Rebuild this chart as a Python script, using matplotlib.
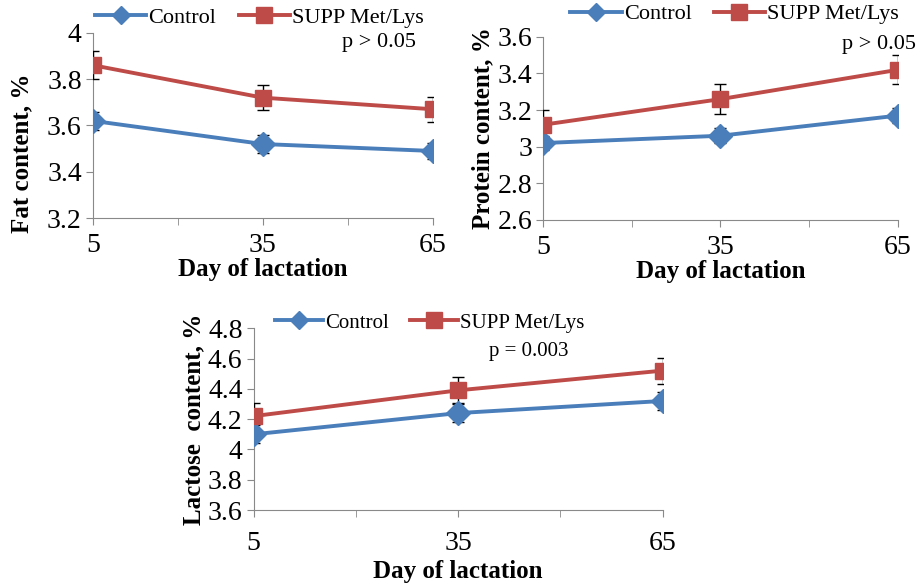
import numpy as np
import matplotlib.pyplot as plt
from matplotlib.lines import Line2D

plt.rcParams["font.family"] = ["Liberation Serif", "DejaVu Serif"]

days = [5, 35, 65]

fat_ctrl = [3.62, 3.52, 3.49]
fat_ctrl_err = [0.04, 0.04, 0.035]
fat_supp = [3.86, 3.72, 3.67]
fat_supp_err = [0.06, 0.055, 0.055]

prot_ctrl = [3.02, 3.06, 3.17]
prot_ctrl_err = [0.04, 0.04, 0.04]
prot_supp = [3.12, 3.26, 3.42]
prot_supp_err = [0.08, 0.08, 0.08]

lac_ctrl = [4.10, 4.24, 4.32]
lac_ctrl_err = [0.06, 0.06, 0.06]
lac_supp = [4.22, 4.39, 4.52]
lac_supp_err = [0.085, 0.085, 0.085]

blue = "#4a7ebb"
red = "#be4b48"
grey = "#898989"


def panel(ax, ctrl, cerr, supp, serr, ylim, yticks, yticklabels, ylabel, ptext, ptext_xy,
          leg_anchor, legsize=16):
    ax.errorbar(days, ctrl, yerr=cerr, color=blue, lw=2.8, marker="D", ms=12,
                ecolor="black", elinewidth=1, capsize=4, capthick=1, zorder=3)
    ax.errorbar(days, supp, yerr=serr, color=red, lw=2.8, marker="s", ms=12,
                ecolor="black", elinewidth=1, capsize=4, capthick=1, zorder=3)
    ax.set_xlim(5, 65)
    ax.set_ylim(*ylim)
    ax.set_xticks(days)
    ax.set_xticks([20, 50], minor=True)
    ax.set_yticks(yticks)
    ax.set_yticklabels(yticklabels)
    for s in ["top", "right"]:
        ax.spines[s].set_visible(False)
    for s in ["left", "bottom"]:
        ax.spines[s].set_color(grey)
    ax.tick_params(which="both", colors=grey, labelcolor="black", labelsize=20, length=5)
    ax.tick_params(axis="x", pad=6)
    ax.tick_params(axis="y", pad=3)
    ax.set_xlabel("Day of lactation", fontsize=18, fontweight="bold", labelpad=0)
    ax.set_ylabel(ylabel, fontsize=18, fontweight="bold", labelpad=2)
    handles = [Line2D([], [], color=blue, lw=2.8, marker="D", ms=9),
               Line2D([], [], color=red, lw=2.8, marker="s", ms=12)]
    ax.legend(handles, ["Control", "SUPP Met/Lys"], loc="lower center", bbox_to_anchor=leg_anchor,
              ncol=2, frameon=False, fontsize=legsize, handlelength=2.3, handletextpad=0.1,
              columnspacing=1.0, borderaxespad=0)
    ax.text(ptext_xy[0], ptext_xy[1], ptext, transform=ax.transAxes, fontsize=legsize,
            ha="right", va="center")


fig = plt.figure(figsize=(9.19, 5.85), dpi=100)

ax1 = fig.add_axes([0.101, 0.627, 0.370, 0.317])
panel(ax1, fat_ctrl, fat_ctrl_err, fat_supp, fat_supp_err, (3.2, 4.0),
      [3.2, 3.4, 3.6, 3.8, 4.0], ["3.2", "3.4", "3.6", "3.8", "4"],
      "Fat content, %", "p > 0.05", (0.95, 0.95), (0.49, 0.98))
ax1.yaxis.set_label_coords(-0.175, 0.35)

ax2 = fig.add_axes([0.591, 0.624, 0.386, 0.313])
panel(ax2, prot_ctrl, prot_ctrl_err, prot_supp, prot_supp_err, (2.6, 3.6),
      [2.6, 2.8, 3.0, 3.2, 3.4, 3.6], ["2.6", "2.8", "3", "3.2", "3.4", "3.6"],
      "Protein content, %", "p > 0.05", (1.05, 0.96), (0.54, 1.02))

ax3 = fig.add_axes([0.276, 0.128, 0.445, 0.311])
panel(ax3, lac_ctrl, lac_ctrl_err, lac_supp, lac_supp_err, (3.6, 4.8),
      [3.6, 3.8, 4.0, 4.2, 4.4, 4.6, 4.8], ["3.6", "3.8", "4", "4.2", "4.4", "4.6", "4.8"],
      "Lactose  content, %", "p = 0.003", (0.77, 0.87), (0.43, 0.93), legsize=15)
ax3.tick_params(axis="x", pad=10)
ax3.xaxis.labelpad = 3

fig.savefig("out.png", dpi=100)
